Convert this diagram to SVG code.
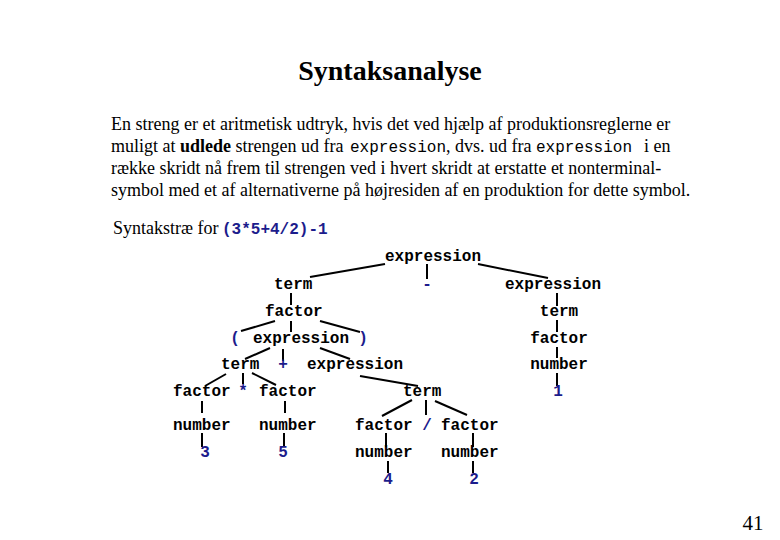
<svg xmlns="http://www.w3.org/2000/svg" width="780" height="540" viewBox="0 0 780 540">
<style>
.ser{font-family:"Liberation Serif","Times New Roman",serif;fill:#000}
.title{font-size:28px;font-weight:bold}
.body{font-size:18px}
.mono{font-family:"Liberation Mono","Courier New",monospace}
.t{font-family:"Liberation Mono","Courier New",monospace;font-size:16px;fill:#000;font-weight:bold}
.b{fill:#1c1c8c}
.c{text-anchor:middle}
#connectors line{stroke:#000;stroke-width:2;stroke-linecap:butt}
</style>
<rect width="780" height="540" fill="#fff"/>
<text class="ser title c" x="390" y="80">Syntaksanalyse</text>
<g class="ser body">
<text x="111" y="130">En streng er et aritmetisk udtryk, hvis det ved hjælp af produktionsreglerne er</text>
<text x="111" y="152">muligt at <tspan font-weight="bold">udlede</tspan> strengen ud fra <tspan class="mono" font-size="16" x="350">expression</tspan>, dvs. ud fra <tspan class="mono" font-size="16" x="536">expression</tspan><tspan x="644">i en</tspan></text>
<text x="111" y="174">række skridt nå frem til strengen ved i hvert skridt at erstatte et nonterminal-</text>
<text x="111" y="196">symbol med et af alternativerne på højresiden af en produktion for dette symbol.</text>
<text x="113" y="234">Syntakstræ for <tspan class="t b" x="222">(3*5+4/2)-1</tspan></text>
</g>
<text class="ser c" x="753" y="530" font-size="21">41</text>

<g id="connectors">
<line x1="385" y1="264" x2="310" y2="277"/>
<line x1="427" y1="264" x2="427" y2="279"/>
<line x1="478" y1="264" x2="548" y2="278"/>
<line x1="557" y1="293" x2="557" y2="306"/>
<line x1="557" y1="320" x2="557" y2="332"/>
<line x1="557" y1="347" x2="557" y2="358"/>
<line x1="557" y1="373" x2="557" y2="386"/>
<line x1="291" y1="293" x2="291" y2="305"/>
<line x1="275" y1="321" x2="241" y2="331"/>
<line x1="291" y1="321" x2="291" y2="332"/>
<line x1="320" y1="321" x2="360" y2="332"/>
<line x1="270" y1="348" x2="245" y2="359"/>
<line x1="283" y1="349" x2="283" y2="361"/>
<line x1="320" y1="348" x2="350" y2="359"/>
<line x1="226" y1="374" x2="205" y2="386"/>
<line x1="243" y1="373" x2="243" y2="384"/>
<line x1="252" y1="373" x2="276" y2="385"/>
<line x1="360" y1="376" x2="418" y2="386"/>
<line x1="202" y1="401" x2="202" y2="413"/>
<line x1="202" y1="433" x2="202" y2="447"/>
<line x1="285" y1="401" x2="285" y2="413"/>
<line x1="284" y1="433" x2="284" y2="447"/>
<line x1="412" y1="400" x2="382" y2="416"/>
<line x1="426" y1="400" x2="426" y2="415"/>
<line x1="435" y1="401" x2="467" y2="415"/>
<line x1="386" y1="433" x2="386" y2="447"/>
<line x1="388" y1="461" x2="388" y2="473"/>
<line x1="473" y1="433" x2="473" y2="447"/>
<line x1="473" y1="461" x2="473" y2="473"/>
</g>

<g id="n-root"><text class="t" x="385" y="261">expression</text></g>
<g id="n-minus"><text class="t b c" x="427" y="289">-</text></g>
<g id="n-expr-r"><text class="t" x="505" y="289">expression</text></g>
<g id="n-term-r"><text class="t c" x="559" y="316">term</text></g>
<g id="n-factor-r"><text class="t c" x="559" y="343">factor</text></g>
<g id="n-number-r"><text class="t c" x="559" y="369">number</text></g>
<g id="n-one"><text class="t b c" x="558" y="396">1</text></g>
<g id="n-term-l"><text class="t" x="274" y="289">term</text></g>
<g id="n-factor-l"><text class="t" x="265" y="316">factor</text></g>
<g id="n-lparen"><text class="t b c" x="235" y="343">(</text></g>
<g id="n-expr-l"><text class="t" x="253" y="343">expression</text></g>
<g id="n-rparen"><text class="t b c" x="363" y="343">)</text></g>
<g id="n-term2"><text class="t" x="221" y="369">term</text></g>
<g id="n-plus"><text class="t b c" x="283" y="369">+</text></g>
<g id="n-expr2"><text class="t" x="307" y="369">expression</text></g>
<g id="n-factor-a"><text class="t" x="173" y="396">factor</text></g>
<g id="n-star"><text class="t b c" x="243" y="396">*</text></g>
<g id="n-factor-b"><text class="t" x="259" y="396">factor</text></g>
<g id="n-term3"><text class="t" x="403" y="396">term</text></g>
<g id="n-number-a"><text class="t" x="173" y="430">number</text></g>
<g id="n-number-b"><text class="t" x="259" y="430">number</text></g>
<g id="n-three"><text class="t b c" x="205" y="457">3</text></g>
<g id="n-five"><text class="t b c" x="283" y="457">5</text></g>
<g id="n-factor-c"><text class="t" x="355" y="430">factor</text></g>
<g id="n-slash"><text class="t b c" x="427" y="430">/</text></g>
<g id="n-factor-d"><text class="t" x="441" y="430">factor</text></g>
<g id="n-number-c"><text class="t" x="355" y="457">number</text></g>
<g id="n-number-d"><text class="t" x="441" y="457">number</text></g>
<g id="n-four"><text class="t b c" x="388" y="484">4</text></g>
<g id="n-two"><text class="t b c" x="474" y="484">2</text></g>
</svg>
